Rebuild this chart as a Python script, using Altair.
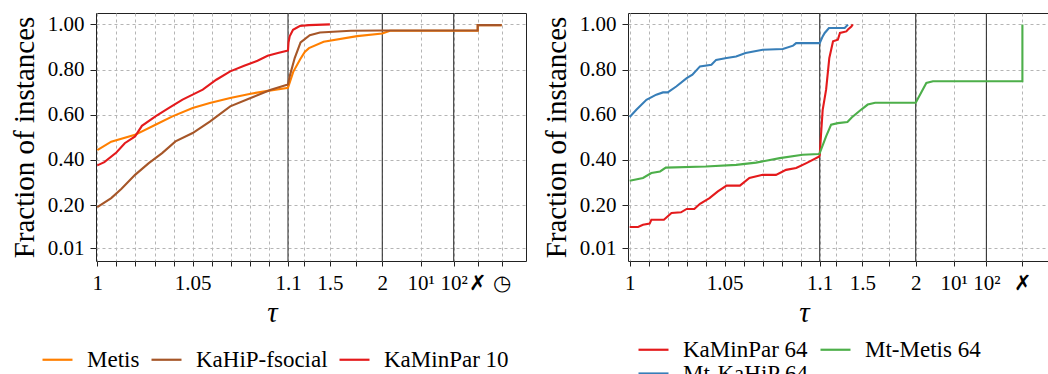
import altair as alt
import numpy as np
import pandas as pd

# ---- special tau codes for the two non-numeric columns of the x axis ----
FAIL = 1000.0      # "✗" column (infeasible)
TIMEOUT = 10000.0  # "◷" column (timeout)

# ---- left panel series ----
METIS_TAU = [1.0, 1.0073, 1.0198, 1.0305, 1.0394, 1.05, 1.059, 1.0697, 1.0804, 1.091, 1.0995,
             1.1, 1.15, 1.215, 1.26, 1.3, 1.44, 1.76, 2.0, 2.76, FAIL, FAIL, TIMEOUT]
METIS_FRAC = [0.443, 0.481, 0.511, 0.556, 0.593, 0.630, 0.652, 0.674, 0.693, 0.708, 0.718,
              0.720, 0.790, 0.845, 0.878, 0.895, 0.923, 0.948, 0.960, 0.972, 0.972, 0.997, 0.997]

KAHIP_TAU = [1.0, 1.0073, 1.0127, 1.0198, 1.027, 1.034, 1.041, 1.05, 1.059, 1.0697, 1.0804, 1.091,
             1.0995, 1.1, 1.116, 1.164, 1.22, 1.308, 1.405, 1.7, 2.0, FAIL, FAIL, TIMEOUT]
KAHIP_FRAC = [0.191, 0.231, 0.272, 0.334, 0.386, 0.430, 0.482, 0.519, 0.570, 0.637, 0.674, 0.711,
              0.733, 0.735, 0.770, 0.851, 0.920, 0.952, 0.964, 0.972, 0.973, 0.973, 0.997, 0.997]

KAMINPAR10_TAU = [1.0, 1.0037, 1.01, 1.0144, 1.0198, 1.0234, 1.0305, 1.0376, 1.0447, 1.05, 1.0553,
                  1.0624, 1.0697, 1.077, 1.084, 1.0893, 1.0947, 1.0995, 1.1, 1.105, 1.116, 1.148,
                  1.212, 1.3, 1.5]
KAMINPAR10_FRAC = [0.376, 0.390, 0.433, 0.474, 0.504, 0.551, 0.593, 0.630, 0.667, 0.689, 0.711,
                   0.755, 0.792, 0.817, 0.839, 0.861, 0.873, 0.883, 0.885, 0.920, 0.947, 0.976,
                   0.993, 0.997, 1.0]

# ---- right panel series ----
KAMINPAR64_TAU = [1.0, 1.0044, 1.007, 1.0105, 1.0114, 1.018, 1.022, 1.027, 1.030, 1.034, 1.037,
                  1.042, 1.0464, 1.051, 1.058, 1.063, 1.070, 1.077, 1.0823, 1.0876, 1.093, 1.0998,
                  1.1, 1.113, 1.128, 1.16, 1.19, 1.225, 1.27, 1.29, 1.35, 1.365, 1.397, 1.41]
KAMINPAR64_FRAC = [0.103, 0.103, 0.113, 0.118, 0.135, 0.135, 0.165, 0.168, 0.183, 0.183, 0.206,
                   0.231, 0.261, 0.286, 0.286, 0.320, 0.334, 0.334, 0.356, 0.364, 0.386, 0.415,
                   0.420, 0.516, 0.622, 0.711, 0.851, 0.925, 0.932, 0.962, 0.969, 0.977, 0.991, 1.0]

MTKAHIP64_TAU = [1.0, 1.0035, 1.0088, 1.014, 1.0175, 1.020, 1.0245, 1.030, 1.033, 1.037, 1.043,
                 1.0455, 1.051, 1.056, 1.061, 1.070, 1.0806, 1.086, 1.0876, 1.099, 1.1, 1.128,
                 1.147, 1.187, 1.334, 1.365]
MTKAHIP64_FRAC = [0.590, 0.622, 0.666, 0.689, 0.699, 0.699, 0.725, 0.762, 0.777, 0.814, 0.821,
                  0.843, 0.851, 0.858, 0.873, 0.888, 0.891, 0.906, 0.917, 0.917, 0.917, 0.947,
                  0.962, 0.984, 0.984, 0.999]

MTMETIS64_TAU = [1.0, 1.007, 1.0114, 1.016, 1.019, 1.040, 1.056, 1.0665, 1.079, 1.091, 1.0995,
                 1.1, 1.16, 1.207, 1.27, 1.36, 1.40, 1.49, 1.55, 1.62, 2.0, 3.14, 4.16, FAIL, FAIL]
MTMETIS64_FRAC = [0.308, 0.320, 0.342, 0.349, 0.366, 0.371, 0.378, 0.388, 0.408, 0.423, 0.426,
                  0.430, 0.504, 0.556, 0.563, 0.568, 0.588, 0.623, 0.645, 0.653, 0.653, 0.741,
                  0.748, 0.748, 1.0]

LEFT_NAMES = ["Metis", "KaHiP-fsocial", "KaMinPar 10"]
LEFT_COLORS = ["#ff7f00", "#a65628", "#e41a1c"]
LEFT_SERIES = [(METIS_TAU, METIS_FRAC), (KAHIP_TAU, KAHIP_FRAC), (KAMINPAR10_TAU, KAMINPAR10_FRAC)]

RIGHT_NAMES = ["KaMinPar 64", "Mt-KaHiP 64", "Mt-Metis 64"]
RIGHT_COLORS = ["#e41a1c", "#377eb8", "#4daf4a"]
RIGHT_SERIES = [(KAMINPAR64_TAU, KAMINPAR64_FRAC), (MTKAHIP64_TAU, MTKAHIP64_FRAC),
                (MTMETIS64_TAU, MTMETIS64_FRAC)]
RIGHT_LEGEND_ORDER = ["KaMinPar 64", "Mt-Metis 64", "Mt-KaHiP 64"]

# ---- broken x axis: knots and ticks ----
KNOT_TAU = [1.0, 1.1, 2.0, 10.0, 100.0, FAIL, TIMEOUT]
KNOT_LOG = [False, False, True, True, True, True]
LEFT_KNOT_POS = [1.3, 192.0, 286.3, 324.7, 357.7, 381.7, 405.7]
RIGHT_KNOT_POS = [1.7, 191.7, 287.7, 325.7, 358.4, 394.4, 430.4]
PANEL_W = 430
PANEL_H = 248

MAJOR_TICK_TAU = [1.0, 1.05, 1.1, 1.5, 2.0, 10.0, 100.0, FAIL, TIMEOUT]
MAJOR_TICK_LABEL = ["1", "1.05", "1.1", "1.5", "2", "10¹", "10²", "✗", "◷"]
MINOR_TICK_TAU = [1.01, 1.02, 1.03, 1.04, 1.06, 1.07, 1.08, 1.09, 1.25, 1.75]
SOLID_TAU = [1.1, 2.0, 100.0]

Y_TICKS = [0.01, 0.2, 0.4, 0.6, 0.8, 1.0]
Y_DOMAIN = [-0.0475, 1.0505]

FONT = "Liberation Serif"
TICK_FS = 21
TITLE_FS = 29
LEGEND_FS = 23
FRAME = "#222222"
GRID = "#b5b5b5"
LEGEND_SYMBOL = "M-1.5,0H1.5"   # 30 px long line at size 400


def to_pos(t, kp):
    n = len(KNOT_TAU) - 1
    for i in range(n):
        a, b = KNOT_TAU[i], KNOT_TAU[i + 1]
        if t <= b or i == n - 1:
            f = np.log(t / a) / np.log(b / a) if KNOT_LOG[i] else (t - a) / (b - a)
            return kp[i] + f * (kp[i + 1] - kp[i])


def panel(names, colors, series, kp, legend_order, legend_cols, legend_x, legend_y, max_tau):
    rows = []
    for name, (taus, fracs) in zip(names, series):
        for k, (t, f) in enumerate(zip(taus, fracs)):
            rows.append({"series": name, "pos": to_pos(t, kp), "frac": f, "idx": k})
    df = pd.DataFrame(rows)

    maj = [(t, l) for t, l in zip(MAJOR_TICK_TAU, MAJOR_TICK_LABEL) if t <= max_tau]
    maj_pos = [round(to_pos(t, kp), 3) for t, _ in maj]
    min_pos = [round(to_pos(t, kp), 3) for t in MINOR_TICK_TAU]
    expr = "''"
    for p, (_, lab) in reversed(list(zip(maj_pos, maj))):
        expr = f"abs(datum.value - {p}) < 0.01 ? '{lab}' : ({expr})"

    xscale = alt.Scale(domain=[0, PANEL_W], nice=False, zero=False)
    yscale = alt.Scale(domain=Y_DOMAIN, nice=False, zero=False)

    xaxis = alt.Axis(values=sorted(maj_pos + min_pos), labelExpr=expr, grid=True,
                     gridDash=[3, 3], gridColor=GRID, gridWidth=1, domain=False,
                     ticks=True, tickSize=5, tickColor=FRAME, tickWidth=1,
                     labelFont=FONT, labelFontSize=TICK_FS, labelColor="black",
                     labelPadding=6, labelOverlap=False, labelFlush=False, labelBound=False,
                     title="τ", titleFont=FONT, titleFontSize=TITLE_FS, titleFontStyle="italic",
                     titleFontWeight="normal", titleColor="black",
                     titleX=176, titleY=60, titleBaseline="alphabetic", titleAlign="center")
    yaxis = alt.Axis(values=Y_TICKS, format=".2f", grid=True, gridDash=[3, 3], gridColor=GRID,
                     gridWidth=1, domain=False, ticks=True, tickSize=6, tickColor=FRAME,
                     labelFont=FONT, labelFontSize=TICK_FS, labelColor="black", labelPadding=6,
                     labelOverlap=False,
                     title="Fraction of instances", titleFont=FONT, titleFontSize=TITLE_FS,
                     titleFontWeight="normal", titleColor="black", titleAngle=270,
                     titleX=-63, titleY=PANEL_H / 2, titleAlign="center",
                     titleBaseline="alphabetic")

    X = alt.X("pos:Q", scale=xscale, axis=xaxis)
    Y = alt.Y("frac:Q", scale=yscale, axis=yaxis)

    base = alt.Chart(df)
    axes_layer = base.mark_line(opacity=0).encode(x=X, y=Y)
    rules = alt.Chart(pd.DataFrame({"pos": [to_pos(t, kp) for t in SOLID_TAU]})).mark_rule(
        color="#333333", strokeWidth=1.1).encode(x=X)
    lines = base.mark_line(strokeWidth=2.1, clip=True).encode(
        x=X, y=Y,
        order=alt.Order("idx:Q"),
        color=alt.Color("series:N", sort=legend_order,
                        scale=alt.Scale(domain=legend_order,
                                        range=[colors[names.index(n)] for n in legend_order]),
                        legend=alt.Legend(orient="none", legendX=legend_x, legendY=legend_y,
                                          direction="horizontal", columns=legend_cols,
                                          title=None, symbolType=LEGEND_SYMBOL, symbolSize=400,
                                          symbolStrokeWidth=2.2, symbolFillColor="transparent",
                                          labelFont=FONT,
                                          labelFontSize=LEGEND_FS, labelColor="black",
                                          labelOffset=18, columnPadding=7, rowPadding=-6,
                                          padding=0, labelLimit=400)),
    )
    return alt.layer(axes_layer, rules, lines).properties(width=PANEL_W, height=PANEL_H)


left = panel(LEFT_NAMES, LEFT_COLORS, LEFT_SERIES, LEFT_KNOT_POS, LEFT_NAMES, 3, -50, 335, TIMEOUT)
right = panel(RIGHT_NAMES, RIGHT_COLORS, RIGHT_SERIES, RIGHT_KNOT_POS, RIGHT_LEGEND_ORDER, 2,
              14, 325, FAIL)

chart = alt.hconcat(left, right, spacing=14).resolve_scale(
    color="independent", x="independent").resolve_legend(color="independent").properties(
    autosize=alt.AutoSizeParams(type="none"),
    padding={"left": 96, "top": 13, "right": 952, "bottom": 361},
    background="white",
).configure_view(stroke=FRAME, strokeWidth=1).configure_axis(
    labelOverlap=False, labelFont=FONT, titleFont=FONT
).configure_legend(labelFont=FONT, labelFontSize=LEGEND_FS)

chart.save("out.html", embed_options={"renderer": "svg", "actions": False})
